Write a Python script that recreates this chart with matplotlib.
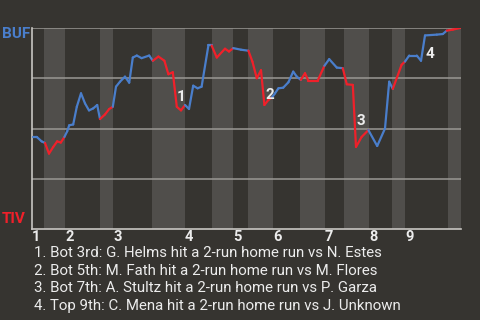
import matplotlib
matplotlib.use("Agg")
import matplotlib.pyplot as plt
from matplotlib.collections import LineCollection
import numpy as np

# ---- data -------------------------------------------------------------
# play position (plate-appearance units) and BUF win probability
play = [0.2, 1.2, 2.4, 3.25, 4.25, 5.3, 6.3, 7.2, 8.1, 8.8, 9.3, 10.3, 11.2,
        12.25, 13.25, 14.25, 15.3, 16.3, 17.0, 18.25, 19.3, 20.2, 21.0, 22.0,
        23.25, 24.3, 25.2, 26.2, 27.4, 29.3, 30.2, 31.6, 33.1, 34.1, 35.2,
        36.2, 37.25, 38.25, 39.25, 40.3, 41.4, 42.4, 44.1, 44.9, 46.2, 48.25,
        49.25, 50.3, 52.25, 54.1, 55.1, 56.2, 57.25, 58.1, 59.1, 60.0, 60.75,
        61.6, 62.8, 64.1, 65.3, 66.2, 67.2, 68.25, 69.1, 71.4, 73.1, 74.3,
        76.2, 77.7, 78.7, 80.2, 81.0, 82.4, 84.1, 86.3, 88.25, 89.3, 90.2,
        92.4, 93.25, 94.3, 96.2, 97.25, 98.25, 101.2, 102.7, 103.7, 105.2,
        107.0]
wp = [0.458, 0.458, 0.436, 0.428, 0.375, 0.408, 0.436, 0.430, 0.458, 0.486,
      0.516, 0.520, 0.608, 0.675, 0.625, 0.590, 0.600, 0.617, 0.547, 0.570,
      0.597, 0.608, 0.708, 0.733, 0.758, 0.728, 0.853, 0.863, 0.850, 0.863,
      0.837, 0.858, 0.837, 0.770, 0.780, 0.608, 0.590, 0.617, 0.597, 0.713,
      0.700, 0.708, 0.913, 0.913, 0.853, 0.897, 0.883, 0.900, 0.892, 0.887,
      0.833, 0.750, 0.790, 0.617, 0.642, 0.655, 0.675, 0.700, 0.703, 0.730,
      0.783, 0.758, 0.742, 0.775, 0.737, 0.737, 0.812, 0.845, 0.803, 0.800,
      0.720, 0.717, 0.408, 0.458, 0.492, 0.413, 0.500, 0.733, 0.697, 0.817,
      0.833, 0.863, 0.863, 0.837, 0.963, 0.967, 0.970, 0.987, 0.992, 1.000]
# half-inning boundaries (play units): top1, bot1, top2, ...
half_starts = [0, 3, 8.25, 17, 20.25, 30, 38.25, 45, 50.25, 54, 60.25, 67,
               73.25, 78, 84.25, 90, 93.25, 104, 107.25]
innings = ["1", "2", "3", "4", "5", "6", "7", "8", "9"]
teams = ["BUF", "TIV"]
hr_idx = [35, 53, 72, 84]
hr_offsets = [(0, 10), (1, 10), (1, 26), (1, -19)]
notes = ["1. Bot 3rd: G. Helms hit a 2-run home run vs N. Estes",
         "2. Bot 5th: M. Fath hit a 2-run home run vs M. Flores",
         "3. Bot 7th: A. Stultz hit a 2-run home run vs P. Garza",
         "4. Top 9th: C. Mena hit a 2-run home run vs J. Unknown"]

# ---- style ------------------------------------------------------------
BG = "#363430"
BAND = "#504e4b"
BLUE = "#4a7ecb"
RED = "#f0202a"
TXT = "#ececec"
plt.rcParams["font.family"] = ["Roboto", "DejaVu Sans"]

fig = plt.figure(figsize=(4.8, 3.2), dpi=100, facecolor=BG)
W, H = 480, 320
ax = fig.add_axes([32 / W, (H - 229) / H, 429 / W, 201 / H])
ax.set_facecolor(BG)
ax.set_xlim(half_starts[0], half_starts[-1])
ax.set_ylim(0, 1)

# bottom-half bands
for i in range(1, len(half_starts) - 1, 2):
    ax.axvspan(half_starts[i], half_starts[i + 1], color=BAND, lw=0, zorder=0)

for yv in [0.25, 0.5, 0.75, 1.0]:
    ax.axhline(yv, color="#9a9894", lw=1.1, zorder=1)

for s in ["top", "right"]:
    ax.spines[s].set_visible(False)
for s in ["left", "bottom"]:
    ax.spines[s].set_color("#c8c6c2")
    ax.spines[s].set_linewidth(1.2)
ax.set_xticks([])
ax.set_yticks([])

# win probability line, coloured by batting team
x = np.array(play)
y = np.array(wp)
segs = np.stack([np.column_stack([x[:-1], y[:-1]]),
                 np.column_stack([x[1:], y[1:]])], axis=1)
mids = (x[:-1] + x[1:]) / 2
half = np.searchsorted(half_starts, mids, side="right") - 1
cols = [BLUE if h % 2 == 0 else RED for h in half]
ax.add_collection(LineCollection(segs, colors=cols, linewidths=1.6,
                                 zorder=3, capstyle="round",
                                 joinstyle="round"))

# home-run annotations
for k, (i, off) in enumerate(zip(hr_idx, hr_offsets)):
    ax.annotate(str(k + 1), xy=(x[i], y[i]), xytext=off,
                textcoords="offset pixels", color=TXT, fontsize=11,
                fontweight="bold", ha="left", va="center", zorder=4)

# inning labels
tr = ax.get_xaxis_transform()
for j, lab in enumerate(innings):
    ax.text(half_starts[2 * j], -0.04, lab, transform=tr, color=TXT,
            fontsize=10.5, fontweight="bold", ha="left", va="center",
            clip_on=False)

# team labels
fig.text(16 / W, 1 - 34 / H, teams[0], color=BLUE, fontsize=11,
         fontweight="bold", ha="center", va="center")
fig.text(14 / W, 1 - 219 / H, teams[1], color=RED, fontsize=11,
         fontweight="bold", ha="center", va="center")

# notes
for j, t in enumerate(notes):
    fig.text(34 / W, 1 - (253 + 17.7 * j) / H, t, color=TXT, fontsize=10.8,
             ha="left", va="center")

fig.savefig("out.png", dpi=100, facecolor=BG)
